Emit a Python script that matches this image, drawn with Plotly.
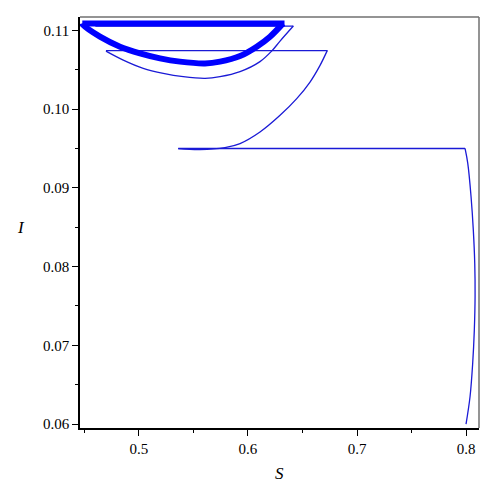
import plotly.graph_objects as go

# Trajectory (S, I), piece by piece
arc1_S = [0.800, 0.8037, 0.8061, 0.8076, 0.8083, 0.8080, 0.8067, 0.8046, 0.8016, 0.7991]
arc1_I = [0.0600, 0.0635, 0.0677, 0.0719, 0.0762, 0.0804, 0.0846, 0.0889, 0.0931, 0.0950]

jump1_S = [0.7991, 0.536]
jump1_I = [0.0950, 0.0950]

arc2_S = [0.536, 0.556, 0.5789, 0.5927, 0.6110, 0.6294, 0.6447, 0.6569, 0.6661, 0.6728]
arc2_I = [0.09499, 0.09486, 0.09511, 0.09562, 0.09709, 0.09921, 0.10133, 0.10344, 0.10556, 0.10746]

jump2_S = [0.6728, 0.4697]
jump2_I = [0.10742, 0.10742]

arc3_S = [0.4697, 0.4856, 0.5039, 0.5223, 0.5406, 0.5606, 0.5743, 0.5927, 0.6110, 0.6217, 0.6294, 0.6416]
arc3_I = [0.10737, 0.10623, 0.10518, 0.10454, 0.10412, 0.10391, 0.10412, 0.10476, 0.10603, 0.10737, 0.10864, 0.11055]

jump3_S = [0.6416, 0.460]
jump3_I = [0.11055, 0.11055]

cycle_arc_S = [0.4480, 0.4489, 0.4642, 0.4826, 0.5009, 0.5193, 0.5376, 0.5606, 0.5743, 0.5927, 0.6080, 0.6202, 0.6321]
cycle_arc_I = [0.11089, 0.11067, 0.10920, 0.10793, 0.10708, 0.10645, 0.10603, 0.10581, 0.10603, 0.10674, 0.10793, 0.10920, 0.11089]
cycle_top_S = [0.6335, 0.4480]
cycle_top_I = [0.11089, 0.11089]

x_ticks = [0.5, 0.6, 0.7, 0.8]
y_ticks = [0.06, 0.07, 0.08, 0.09, 0.10, 0.11]
y_labels = ["0.06", "0.07", "0.08", "0.09", "0.10", "0.11"]

THIN = "#1a1ad6"
fig = go.Figure()
for xs, ys, spl in [(arc1_S, arc1_I, True), (jump1_S, jump1_I, False),
                    (arc2_S, arc2_I, True), (jump2_S, jump2_I, False),
                    (arc3_S, arc3_I, True), (jump3_S, jump3_I, False)]:
    fig.add_trace(go.Scatter(x=xs, y=ys, mode="lines",
                             line=dict(color=THIN, width=1.3,
                                       shape="spline" if spl else "linear", smoothing=1.0),
                             showlegend=False, hoverinfo="skip"))
fig.add_trace(go.Scatter(x=cycle_arc_S, y=cycle_arc_I, mode="lines",
                         line=dict(color="#0000ff", width=6, shape="spline", smoothing=1.0),
                         showlegend=False, hoverinfo="skip"))
fig.add_trace(go.Scatter(x=cycle_top_S, y=cycle_top_I, mode="lines",
                         line=dict(color="#0000ff", width=6),
                         showlegend=False, hoverinfo="skip"))

serif = "Liberation Serif, Times New Roman, serif"
fig.update_layout(
    width=488, height=492,
    margin=dict(l=72, r=17, t=9, b=72),
    paper_bgcolor="white", plot_bgcolor="white",
    font=dict(family=serif, size=15, color="black"),
    xaxis=dict(range=[0.4459, 0.8119], tickvals=x_ticks,
               ticktext=[str(v) for v in x_ticks],
               showgrid=False, zeroline=False,
               showline=True, linecolor="black", linewidth=1.5,
               ticks="outside", ticklen=6, tickwidth=1, tickcolor="black",
               minor=dict(dtick=0.05, tick0=0.45, ticks="outside", ticklen=3, tickcolor="black", showgrid=False)),
    yaxis=dict(range=[0.0595, 0.1117], tickvals=y_ticks, ticktext=y_labels,
               showgrid=False, zeroline=False,
               showline=True, linecolor="black", linewidth=1.5,
               ticks="outside", ticklen=6, tickwidth=1, tickcolor="black",
               minor=dict(dtick=0.005, tick0=0.055, ticks="outside", ticklen=3, tickcolor="black", showgrid=False)),
    shapes=[
        dict(type="line", xref="paper", yref="paper", x0=0, x1=1, y0=1, y1=1,
             line=dict(color="#707070", width=1.5)),
        dict(type="line", xref="paper", yref="paper", x0=1, x1=1, y0=0, y1=1,
             line=dict(color="#707070", width=1.5)),
    ],
    annotations=[
        dict(text="<i>S</i>", xref="paper", yref="paper", x=0.5, y=0, yshift=-45,
             showarrow=False, font=dict(size=17), xanchor="center", yanchor="middle"),
        dict(text="<i>I</i>", xref="paper", yref="paper", x=0, y=0.487, xshift=-59,
             showarrow=False, font=dict(size=17), xanchor="center", yanchor="middle"),
    ],
)
fig.write_html("out.html")
